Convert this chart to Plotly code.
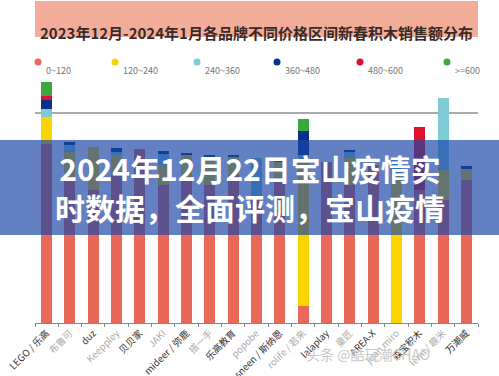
import plotly.graph_objects as go

categories = ["LEGO / 乐高", "布鲁可", "duz", "Keeppley", "贝贝家", "JAKI", "mideer / 弥鹿",
              "搭一手", "乐高教育", "popobe", "sneen / 斯纳恩", "rolife / 若来", "lalaplay",
              "童匠", "AREA-X", "joan miro", "森宝积木", "lemi / 趣米", "万潮威"]
series_names = ["0~120", "120~240", "240~360", "360~480", "480~600", ">=600"]
colors = ["#e8685a", "#fbd400", "#7ecbd6", "#0b2f8a", "#e0102f", "#3aa83e"]

v_0_120   = [85.2, 68.1, 63.3, 70.5, 82.9, 65.7, 68.1, 65.7, 70.5, 58.6, 68.1, 8.1, 76.7, 65.7, 75.2, 0.0, 63.3, 58.6, 68.1]
v_120_240 = [12.9, 13.3, 20.5, 9.5, 0.0, 9.5, 11.9, 13.3, 8.6, 0.0, 8.6, 69.5, 0.0, 12.9, 0.0, 70.5, 0.0, 14.3, 5.7]
v_240_360 = [3.8, 3.3, 0.0, 1.4, 0.0, 5.2, 0.0, 0.0, 0.0, 20.0, 0.0, 2.4, 0.0, 2.9, 0.0, 7.1, 0.0, 34.3, 0.0]
v_360_480 = [4.3, 1.4, 0.0, 1.9, 0.0, 1.4, 1.0, 1.0, 1.0, 0.0, 1.0, 11.4, 0.0, 1.0, 0.0, 0.0, 0.0, 0.0, 0.8]
v_480_600 = [1.9, 0.0, 0.0, 0.0, 0.0, 0.0, 0.0, 0.0, 0.0, 0.0, 0.0, 0.0, 0.0, 0.0, 0.0, 0.0, 30.0, 0.0, 0.0]
v_600_up  = [6.7, 0.0, 0.0, 0.0, 0.0, 0.0, 0.0, 0.0, 0.0, 0.0, 0.0, 5.7, 0.0, 0.0, 0.0, 0.0, 0.0, 0.0, 0.0]
series_values = [v_0_120, v_120_240, v_240_360, v_360_480, v_480_600, v_600_up]

title_text = "2023年12月-2024年1月各品牌不同价格区间新春积木销售额分布"
banner_lines = ["2024年12月22日宝山疫情实", "时数据，全面评测，宝山疫情"]
watermark = "头条 @酷玩潮CHAO"

W, H = 499, 376
L, R, T, B = 35, 21, 78, 53
PW, PH = W - L - R, H - T - B


def px(x):
    return (x - L) / PW


def py(y):
    return (H - B - y) / PH


fig = go.Figure()
for name, vals, col in zip(series_names, series_values, colors):
    fig.add_trace(go.Bar(x=categories, y=vals, name=name, marker=dict(color=col, line=dict(width=0)),
                         width=0.47, showlegend=False))

ticktext = []
for i, c in enumerate(categories):
    col = "#333333" if i % 2 == 0 else "#aaaaaa"
    ticktext.append(f'<span style="color:{col}">{c}</span>')

shapes = []
annotations = []

# title box
shapes.append(dict(type="rect", xref="paper", yref="paper", x0=px(35), x1=px(478), y0=py(37), y1=py(1),
                   fillcolor="#f2ad9a", line=dict(width=0), layer="below"))
annotations.append(dict(text=f"<b>{title_text}</b>", xref="paper", yref="paper", x=px(256), y=py(20),
                        showarrow=False, font=dict(size=15, color="#3a2a26", family="Noto Sans CJK SC")))

# legend
leg_x = [38, 115, 197, 277, 360, 447]
for name, col, lx in zip(series_names, colors, leg_x):
    shapes.append(dict(type="circle", xref="paper", yref="paper", xsizemode="pixel", ysizemode="pixel",
                       xanchor=px(lx), yanchor=py(62), x0=-3.5, x1=3.5, y0=-3.5, y1=3.5,
                       fillcolor=col, line=dict(width=0)))
    annotations.append(dict(text=name, xref="paper", yref="paper", x=px(lx + 6), y=py(62), xanchor="left",
                            showarrow=False, font=dict(size=9, color="#777777", family="Noto Sans CJK SC")))

# banner overlay
shapes.append(dict(type="rect", xref="paper", yref="paper", x0=px(0), x1=px(W), y0=py(235), y1=py(140),
                   fillcolor="rgba(25,70,165,0.68)", line=dict(width=0), layer="above"))
annotations.append(dict(text="<b>" + "<br>".join(banner_lines) + "</b>", xref="paper", yref="paper",
                        x=px(250), y=py(187), showarrow=False, align="center",
                        font=dict(size=30, color="white", family="Noto Sans CJK SC")))

# watermark
annotations.append(dict(text=watermark, xref="paper", yref="paper", x=px(432), y=py(366),
                        showarrow=False, font=dict(size=14, color="#c8c8c8", family="Noto Sans CJK SC")))

fig.update_layout(
    width=W, height=H, margin=dict(l=L, r=R, t=T, b=B, autoexpand=False),
    barmode="stack", bargap=0.53,
    paper_bgcolor="white", plot_bgcolor="white",
    shapes=shapes, annotations=annotations,
    font=dict(family="Noto Sans CJK SC"),
    xaxis=dict(tickmode="array", tickvals=categories, ticktext=ticktext, tickangle=-45,
               tickfont=dict(size=9.5), showline=True, linecolor="#888888", linewidth=1,
               ticks="outside", tickson="boundaries", ticklen=3, tickcolor="#888888",
               showgrid=False, automargin=False),
    yaxis=dict(range=[0, PH / 2.1], tickvals=[100], showticklabels=False, showgrid=True,
               gridcolor="#aaaaaa", gridwidth=1.5, zeroline=False, showline=False, automargin=False),
)

fig.write_html("out.html", config={"displayModeBar": False},
               post_script="document.body.style.margin='0';document.body.style.overflow='hidden';")
